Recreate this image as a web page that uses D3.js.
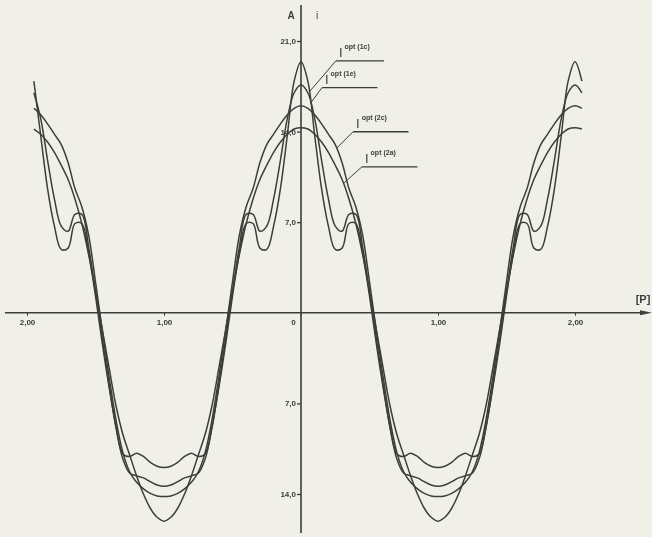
<!DOCTYPE html>
<html><head><meta charset="utf-8">
<script src="https://cdn.jsdelivr.net/npm/d3@7"></script>
<style>html,body{margin:0;padding:0;background:#f1f0e8;} svg{display:block;will-change:transform}</style>
</head><body><svg id="c" width="652" height="537"></svg>
<script>
// sample positions p
const pGrid = [-1.95,-1.9,-1.85,-1.8,-1.75,-1.7,-1.65,-1.6,-1.55,-1.5,-1.45,-1.4,-1.35,-1.3,-1.25,-1.2,-1.15,-1.1,-1.05,-1.0,
 -0.95,-0.9,-0.85,-0.8,-0.75,-0.7,-0.65,-0.6,-0.55,-0.5,-0.45,-0.4,-0.35,-0.3,-0.25,-0.2,-0.15,-0.1,-0.05,0,
 0.05,0.1,0.15,0.2,0.25,0.3,0.35,0.4,0.45,0.5,0.55,0.6,0.65,0.7,0.75,0.8,0.85,0.9,0.95,1.0,
 1.05,1.1,1.15,1.2,1.25,1.3,1.35,1.4,1.45,1.5,1.55,1.6,1.65,1.7,1.75,1.8,1.85,1.9,1.95,2.0,2.05];

const opt1c = [17.9,13.7,9.6,6.7,4.9,5.0,6.9,6.9,4.6,1.3,-2.4,-5.8,-8.8,-10.9,-11.1,-10.85,-11.1,-11.55,-11.85,-11.95,
 -11.85,-11.55,-11.1,-10.85,-11.1,-10.9,-8.8,-5.8,-2.4,1.3,4.6,6.9,6.9,5.0,4.9,6.7,9.6,13.7,17.9,19.4,
 17.9,13.7,9.6,6.7,4.9,5.0,6.9,6.9,4.6,1.3,-2.4,-5.8,-8.8,-10.9,-11.1,-10.85,-11.1,-11.55,-11.85,-11.95,
 -11.85,-11.55,-11.1,-10.85,-11.1,-10.9,-8.8,-5.8,-2.4,1.3,4.6,6.9,6.9,5.0,4.9,6.7,9.6,13.7,17.9,19.4,17.9];

const opt1e = [17.0,15.0,11.8,8.8,6.7,6.3,7.6,7.6,5.1,1.6,-2.0,-5.6,-8.9,-11.3,-12.4,-12.6,-12.75,-13.05,-13.3,-13.4,
 -13.3,-13.05,-12.75,-12.6,-12.4,-11.3,-8.9,-5.6,-2.0,1.6,5.1,7.6,7.6,6.3,6.7,8.8,11.8,15.0,17.0,17.6,
 17.0,15.0,11.8,8.8,6.7,6.3,7.6,7.6,5.1,1.6,-2.0,-5.6,-8.9,-11.3,-12.4,-12.6,-12.75,-13.05,-13.3,-13.4,
 -13.3,-13.05,-12.75,-12.6,-12.4,-11.3,-8.9,-5.6,-2.0,1.6,5.1,7.6,7.6,6.3,6.7,8.8,11.8,15.0,17.0,17.6,17.0];

const opt2c = [15.8,15.3,14.6,13.8,13.0,11.6,9.6,8.2,6.0,2.4,-1.4,-5.0,-8.3,-10.8,-12.3,-13.1,-13.6,-13.95,-14.15,-14.2,
 -14.15,-13.95,-13.6,-13.1,-12.3,-10.8,-8.3,-5.0,-1.4,2.4,6.0,8.2,9.6,11.6,13.0,13.8,14.6,15.3,15.8,16.0,
 15.8,15.3,14.6,13.8,13.0,11.6,9.6,8.2,6.0,2.4,-1.4,-5.0,-8.3,-10.8,-12.3,-13.1,-13.6,-13.95,-14.15,-14.2,
 -14.15,-13.95,-13.6,-13.1,-12.3,-10.8,-8.3,-5.0,-1.4,2.4,6.0,8.2,9.6,11.6,13.0,13.8,14.6,15.3,15.8,16.0,15.8];

const opt2a = [14.2,13.8,13.2,12.4,11.4,10.3,8.8,6.9,4.5,1.7,-1.3,-4.3,-7.2,-9.4,-11.0,-12.6,-14.0,-15.1,-15.8,-16.1,
 -15.8,-15.1,-14.0,-12.6,-11.0,-9.4,-7.2,-4.3,-1.3,1.7,4.5,6.9,8.8,10.3,11.4,12.4,13.2,13.8,14.2,14.3,
 14.2,13.8,13.2,12.4,11.4,10.3,8.8,6.9,4.5,1.7,-1.3,-4.3,-7.2,-9.4,-11.0,-12.6,-14.0,-15.1,-15.8,-16.1,
 -15.8,-15.1,-14.0,-12.6,-11.0,-9.4,-7.2,-4.3,-1.3,1.7,4.5,6.9,8.8,10.3,11.4,12.4,13.2,13.8,14.2,14.3,14.2];

const seriesNames = ["1c","1e","2c","2a"];
const seriesValues = [opt1c, opt1e, opt2c, opt2a];
const xTickValues = [-2,-1,0,1,2];
const yTickValues = [21,14,7,-7,-14];
// label anchors (data units): underline start p, v; leader target p
const labelP = [0.255, 0.153, 0.38, 0.445];
const labelV = [19.47, 17.39, 13.99, 11.28];
const leaderP = [0.06, 0.07, 0.26, 0.31];

const ink = "#3d3d3b";
const font = "Liberation Sans, Arial, sans-serif";
const svg = d3.select("#c");
svg.append("rect").attr("width", 652).attr("height", 537).attr("fill", "#f1f0e8");
const x = d3.scaleLinear().domain([-2, 2]).range([27, 575]);
const y = d3.scaleLinear().domain([-14, 21]).range([494, 41]);

// axes lines
svg.append("line").attr("x1", 5).attr("x2", 646).attr("y1", y(0)).attr("y2", y(0))
  .attr("stroke", ink).attr("stroke-width", 1.6);
svg.append("path").attr("d", `M652,${y(0)} L640,${y(0)-2.5} L640,${y(0)+2.5} Z`).attr("fill", ink);
svg.append("line").attr("x1", x(0)).attr("x2", x(0)).attr("y1", 5).attr("y2", 533)
  .attr("stroke", ink).attr("stroke-width", 1.6);

const fmtY = v => Math.abs(v).toFixed(1).replace(".", ",");
const fmtX = p => p === 0 ? "0" : Math.abs(p).toFixed(2).replace(".", ",");

const yAxis = svg.append("g").attr("transform", `translate(${x(0)},0)`)
  .call(d3.axisLeft(y).tickValues(yTickValues).tickFormat(fmtY).tickSize(4).tickPadding(1));
yAxis.select(".domain").remove();
yAxis.selectAll("line").attr("stroke", ink).attr("stroke-width", 1.3);
yAxis.selectAll("text").attr("fill", ink).attr("font-family", font)
  .attr("font-weight", "bold").attr("font-size", 8);

const xAxis = svg.append("g").attr("transform", `translate(0,${y(0)})`)
  .call(d3.axisBottom(x).tickValues(xTickValues).tickFormat(fmtX).tickSize(3).tickPadding(4));
xAxis.select(".domain").remove();
xAxis.selectAll("line").attr("stroke", ink).attr("stroke-width", 1);
xAxis.selectAll("text").attr("fill", ink).attr("font-family", font)
  .attr("font-weight", "bold").attr("font-size", 8);
xAxis.selectAll(".tick").filter(d => d === 0).select("text").attr("dx", -8);

// curves
const line = d3.line().x((d, i) => x(pGrid[i])).y(d => y(d)).curve(d3.curveCatmullRom.alpha(0.5));
svg.append("g").selectAll("path").data(seriesValues).join("path")
  .attr("d", d => line(d)).attr("fill", "none").attr("stroke", ink).attr("stroke-width", 1.5);

// labels
function valueAt(arr, p) {
  for (let i = 0; i < pGrid.length - 1; i++) {
    if (p >= pGrid[i] && p <= pGrid[i + 1]) {
      const t = (p - pGrid[i]) / (pGrid[i + 1] - pGrid[i]);
      return arr[i] + t * (arr[i + 1] - arr[i]);
    }
  }
  return arr[0];
}
const unit = x(1) - x(0);
seriesNames.forEach((n, k) => {
  const ux = x(labelP[k]), uy = y(labelV[k]);
  const uw = (k === 0 ? 0.35 : 0.405) * unit;
  const g = svg.append("g");
  g.append("line").attr("x1", ux).attr("x2", ux + uw).attr("y1", uy).attr("y2", uy)
    .attr("stroke", ink).attr("stroke-width", 1.3);
  g.append("line").attr("x1", ux).attr("y1", uy)
    .attr("x2", x(leaderP[k])).attr("y2", y(valueAt(seriesValues[k], leaderP[k])))
    .attr("stroke", ink).attr("stroke-width", 1);
  const t = g.append("text").attr("x", ux + 3).attr("y", uy - 4).attr("fill", ink)
    .attr("font-family", font).attr("font-weight", "bold");
  t.append("tspan").attr("font-size", 13).attr("font-weight", "normal").text("I");
  t.append("tspan").attr("font-size", 7).attr("dx", 2).attr("dy", -8).text("opt (" + n + ")");
});

// axis titles
svg.append("text").attr("x", x(0) - 10).attr("y", 19).attr("text-anchor", "middle")
  .attr("font-family", font).attr("font-weight", "bold").attr("font-size", 10).attr("fill", ink).text("A");
svg.append("text").attr("x", x(0) + 16).attr("y", 19).attr("text-anchor", "middle")
  .attr("font-family", font).attr("font-size", 10).attr("fill", ink).text("i");
svg.append("text").attr("x", 643).attr("y", y(0) - 10).attr("text-anchor", "middle")
  .attr("font-family", font).attr("font-weight", "bold").attr("font-size", 11).attr("fill", ink).text("[P]");
</script></body></html>
